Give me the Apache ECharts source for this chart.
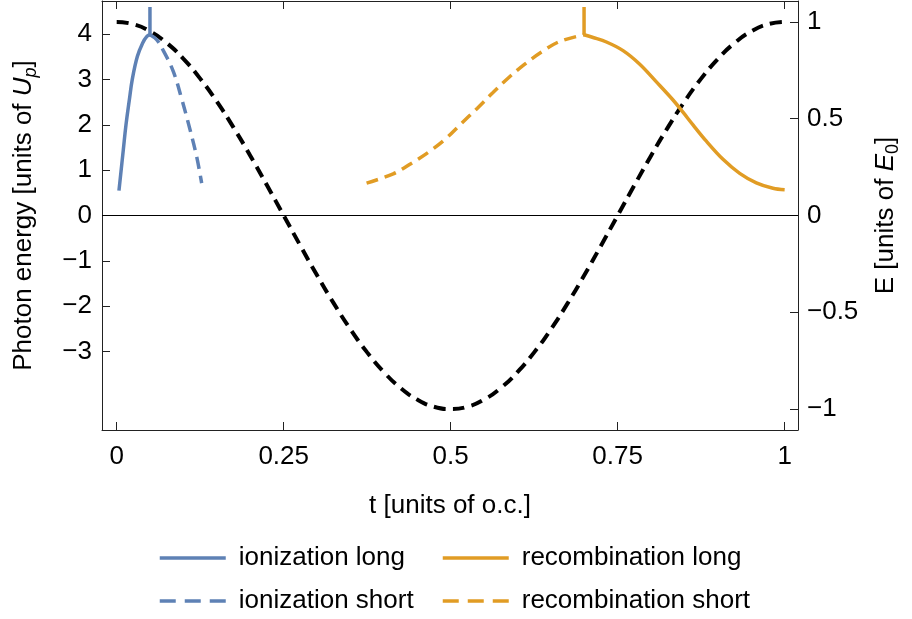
<!DOCTYPE html>
<html><head><meta charset="utf-8">
<script src="https://cdn.jsdelivr.net/npm/echarts@6/dist/echarts.min.js"></script>
<style>html,body{margin:0;padding:0;background:#fff}#c{width:912px;height:619px}</style>
</head><body><div id="c"></div>
<script>
// ---- tick values ----
const xTicks = [0, 0.25, 0.5, 0.75, 1];
const yLeftTicks = [-3, -2, -1, 0, 1, 2, 3, 4];
const yRightTicks = [-1, -0.5, 0, 0.5, 1];

// ---- field E(t) (right axis) ----
const fieldT = [0,0.025,0.05,0.075,0.1,0.125,0.15,0.175,0.2,0.225,0.25,0.275,0.3,0.325,0.35,0.375,0.4,0.425,0.45,0.475,0.5,0.525,0.55,0.575,0.6,0.625,0.65,0.675,0.7,0.725,0.75,0.775,0.8,0.825,0.85,0.875,0.9,0.925,0.95,0.975,1];
const fieldE = [1,0.988,0.951,0.891,0.809,0.707,0.588,0.454,0.309,0.156,0,-0.156,-0.309,-0.454,-0.588,-0.707,-0.809,-0.891,-0.951,-0.988,-1,-0.988,-0.951,-0.891,-0.809,-0.707,-0.588,-0.454,-0.309,-0.156,0,0.156,0.309,0.454,0.588,0.707,0.809,0.891,0.951,0.988,1];

// ---- photon energy curves (left axis) ----
const ionLongT = [0.0034,0.0099,0.0139,0.0189,0.0234,0.0309,0.0389,0.0449,0.0498];
const ionLongV = [0.55,1.45,2.0,2.55,3.01,3.51,3.81,3.95,3.99];
const ionShortT = [0.0498,0.0598,0.0698,0.0847,0.0972,0.1097,0.1197,0.1272];
const ionShortV = [3.99,3.88,3.64,3.18,2.58,1.90,1.30,0.715];
const recShortT = [0.3741,0.414,0.441,0.468,0.493,0.516,0.540,0.563,0.585,0.610,0.636,0.663,0.6997];
const recShortV = [0.715,0.92,1.15,1.41,1.70,2.03,2.37,2.71,3.02,3.33,3.61,3.84,3.99];
const recLongT = [0.6997,0.7132,0.7332,0.7581,0.7831,0.808,0.8329,0.8478,0.8628,0.8828,0.9077,0.9327,0.9576,0.9825,1.0];
const recLongV = [3.99,3.93,3.83,3.64,3.34,2.95,2.55,2.28,2.0,1.64,1.24,0.93,0.72,0.60,0.567];
const ionSpikeT = [0.0498,0.0498];
const ionSpikeV = [3.99,4.60];
const recSpikeT = [0.6997,0.6997];
const recSpikeV = [3.99,4.60];

const names = ['ionization long','ionization short','recombination long','recombination short'];
const BLUE = '#5e81b5', ORANGE = '#e19c24';
const FONT = 'Liberation Sans';
const FS = 26;

function pairs(t, v){ return t.map((x,i)=>[x, v[i]]); }
function minusFmt(v){ return v < 0 ? '\u2212' + Math.abs(v) : String(v); }

const chart = echarts.init(document.getElementById('c'), null, {renderer:'canvas'});
const axisLineStyle = {color:'#222', width:1};
const labelBase = {color:'#000', fontFamily: FONT, fontSize: FS};

function legendFor(name, left, top, dashed){
  return {data:[name], left:left, top:top, itemWidth:66, itemHeight:26, padding:0,
    itemStyle:{opacity:0, color:'rgba(0,0,0,0)', borderWidth:0},
    lineStyle: dashed ? {width:3.5, type:[16,9]} : {width:3.5},
    textStyle:{color:'#000', fontFamily:FONT, fontSize:FS, padding:[0,0,0,8]}};
}

chart.setOption({
  animation:false,
  backgroundColor:'#fff',
  grid:{left:102, right:114, top:1, bottom:189, outerBoundsMode:'none', containLabel:false},
  legend:[
    legendFor(names[0], 158, 545, false),
    legendFor(names[1], 158, 588, true),
    legendFor(names[2], 441, 545, false),
    legendFor(names[3], 441, 588, true)
  ],
  xAxis:[
    {type:'value', position:'bottom', min:-0.022, max:1.02,
     name:'t [units of o.c.]', nameLocation:'middle', nameGap:63,
     nameTextStyle:{color:'#000', fontFamily:FONT, fontSize:FS},
     axisLine:{show:true, onZero:false, lineStyle:axisLineStyle},
     axisTick:{show:true, inside:true, length:8, customValues:xTicks, lineStyle:axisLineStyle},
     axisLabel:{...labelBase, margin:14, customValues:xTicks, formatter:v=>String(v)},
     splitLine:{show:false}},
    {type:'value', position:'top', min:-0.022, max:1.02,
     axisLine:{show:true, onZero:false, lineStyle:axisLineStyle},
     axisTick:{show:true, inside:true, length:8, customValues:xTicks, lineStyle:axisLineStyle},
     axisLabel:{show:false},
     splitLine:{show:false}}
  ],
  yAxis:[
    {type:'value', position:'left', min:-4.735, max:4.735,
     name:'Photon energy [units of {i|U}{sub|p}]', nameLocation:'middle', nameRotate:90, nameGap:62,
     nameTextStyle:{color:'#000', fontFamily:FONT, fontSize:FS, lineHeight:32,
       rich:{i:{fontStyle:'italic', fontFamily:FONT, fontSize:FS, color:'#000'},
             sub:{fontStyle:'italic', fontFamily:FONT, fontSize:18, color:'#000', verticalAlign:'bottom', lineHeight:18}}},
     axisLine:{show:true, onZero:false, lineStyle:axisLineStyle},
     axisTick:{show:true, inside:true, length:8, customValues:yLeftTicks, lineStyle:axisLineStyle},
     axisLabel:{...labelBase, margin:10, customValues:yLeftTicks, formatter:minusFmt},
     splitLine:{show:false}},
    {type:'value', position:'right', min:-1.108, max:1.108,
     name:'E [units of {i|E}{sub|0}]', nameLocation:'middle', nameRotate:90, nameGap:72,
     nameTextStyle:{color:'#000', fontFamily:FONT, fontSize:FS, lineHeight:32,
       rich:{i:{fontStyle:'italic', fontFamily:FONT, fontSize:FS, color:'#000'},
             sub:{fontFamily:FONT, fontSize:18, color:'#000', verticalAlign:'bottom', lineHeight:18}}},
     axisLine:{show:true, onZero:false, lineStyle:axisLineStyle},
     axisTick:{show:true, inside:true, length:8, customValues:yRightTicks, lineStyle:axisLineStyle},
     axisLabel:{...labelBase, margin:9, customValues:yRightTicks, formatter:minusFmt},
     splitLine:{show:false}}
  ],
  series:[
    {name:'zero', type:'line', xAxisIndex:0, yAxisIndex:0, data:[], symbol:'none', silent:true,
     markLine:{silent:true, symbol:'none', label:{show:false}, animation:false,
       lineStyle:{color:'#000', width:1, type:'solid'}, data:[{yAxis:0}]}},
    {name:'field', type:'line', xAxisIndex:0, yAxisIndex:1, data:pairs(fieldT, fieldE), symbol:'none', smooth:true,
     lineStyle:{color:'#000', width:4, type:[12,7]}, z:3},
    {name:names[0], type:'line', xAxisIndex:0, yAxisIndex:0, data:pairs(ionLongT, ionLongV), symbol:'none', smooth:0.4,
     color:BLUE, lineStyle:{color:BLUE, width:3.5, type:'solid'}, z:4},
    {name:names[1], type:'line', xAxisIndex:0, yAxisIndex:0, data:pairs(ionShortT, ionShortV), symbol:'none', smooth:0.4,
     color:BLUE, lineStyle:{color:BLUE, width:3.5, type:[12,7]}, z:4},
    {name:names[2], type:'line', xAxisIndex:0, yAxisIndex:0, data:pairs(recLongT, recLongV), symbol:'none', smooth:0.35,
     color:ORANGE, lineStyle:{color:ORANGE, width:3.5, type:'solid'}, z:4},
    {name:names[3], type:'line', xAxisIndex:0, yAxisIndex:0, data:pairs(recShortT, recShortV), symbol:'none', smooth:0.35,
     color:ORANGE, lineStyle:{color:ORANGE, width:3.5, type:[12,7]}, z:4},
    {name:'ionSpike', type:'line', xAxisIndex:0, yAxisIndex:0, data:pairs(ionSpikeT, ionSpikeV), symbol:'none',
     lineStyle:{color:BLUE, width:3.5}, z:4},
    {name:'recSpike', type:'line', xAxisIndex:0, yAxisIndex:0, data:pairs(recSpikeT, recSpikeV), symbol:'none',
     lineStyle:{color:ORANGE, width:3.5}, z:4}
  ]
});
</script>
</body></html>
